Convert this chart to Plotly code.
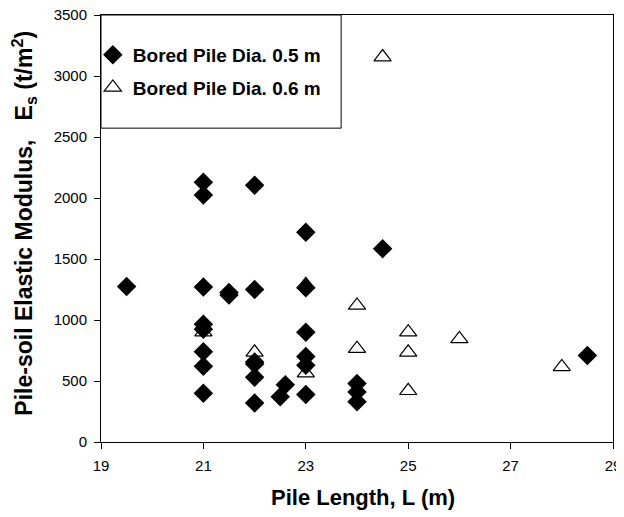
import plotly.graph_objects as go

# Bored pile dia. 0.5 m (filled diamonds)
d05_length = [19.5, 21, 21, 21, 21, 21, 21, 21, 21, 21.5, 21.5, 22, 22, 22, 22, 22, 22,
              22.5, 22.6, 23, 23, 23, 23, 23, 23, 24, 24, 24, 24.5, 28.5]
d05_es = [1275, 2130, 2025, 1270, 965, 925, 740, 620, 400, 1205, 1225, 2105, 1250, 655, 640, 530, 320,
          370, 470, 1720, 1265, 900, 700, 630, 390, 480, 410, 330, 1585, 710]

# Bored pile dia. 0.6 m (open triangles)
d06_length = [21, 22, 23, 23, 24, 24, 24.5, 25, 25, 25, 26, 28]
d06_es = [900, 735, 1290, 565, 1120, 765, 3155, 900, 735, 420, 845, 615]

x_ticks = [19, 21, 23, 25, 27, 29]
y_ticks = [0, 500, 1000, 1500, 2000, 2500, 3000, 3500]

FONT = "Liberation Sans, Arial, sans-serif"

fig = go.Figure()
fig.add_trace(go.Scatter(
    x=d05_length, y=d05_es, mode="markers", name="Bored Pile Dia. 0.5 m",
    legendgroup="a",
    marker=dict(symbol="diamond", size=15, color="black", line=dict(width=0)),
))
fig.add_trace(go.Scatter(
    x=d06_length, y=d06_es, mode="markers", name="Bored Pile Dia. 0.6 m",
    legendgroup="b",
    marker=dict(symbol="triangle-up-open", size=15, color="black", line=dict(width=1.2)),
))

# legend frame
fig.add_shape(type="rect", xref="paper", yref="paper",
              x0=0, x1=0.469, y0=0.735, y1=1,
              line=dict(color="black", width=1), fillcolor="white", layer="below")

# axis titles
fig.add_annotation(text="<b>Pile Length, L (m)</b>", xref="paper", yref="paper",
                   x=0.512, y=-0.129, xanchor="center", yanchor="middle", showarrow=False,
                   font=dict(size=22, family=FONT, color="black"))
fig.add_annotation(text="<b>Pile-soil Elastic Modulus,\u00a0\u00a0\u00a0E<sub>s</sub> (t/m<sup>2</sup>)</b>",
                   xref="paper", yref="paper", x=-0.151, y=0.513, textangle=-90,
                   xanchor="center", yanchor="middle", showarrow=False,
                   font=dict(size=23, family=FONT, color="black"))

# the page body adds an 8px offset, so the figure is sized 8px smaller
fig.update_layout(
    width=616, height=509,
    margin=dict(l=93, r=11, t=7, b=75),
    paper_bgcolor="white", plot_bgcolor="white",
    font=dict(family=FONT, color="black"),
    showlegend=True,
    legend=dict(x=-0.016, y=0.951, xanchor="left", yanchor="top",
                bgcolor="rgba(0,0,0,0)", borderwidth=0,
                font=dict(size=19, family=FONT, color="black", weight="bold"),
                traceorder="grouped", tracegroupgap=5),
    xaxis=dict(
        range=[19, 29], tickvals=x_ticks, ticktext=[str(v) for v in x_ticks],
        showgrid=False, zeroline=False, showline=True, linecolor="black", linewidth=1,
        mirror=True, ticks="outside", ticklen=6, tickcolor="black", automargin=False,
        ticklabelstandoff=4, ticklabeloverflow="allow",
        tickfont=dict(size=15, family=FONT, color="black"),
    ),
    yaxis=dict(
        range=[0, 3500], tickvals=y_ticks, ticktext=[str(v) for v in y_ticks],
        showgrid=False, zeroline=False, showline=True, linecolor="black", linewidth=1,
        mirror=True, ticks="outside", ticklen=6, tickcolor="black", automargin=False,
        ticklabelstandoff=4, ticklabeloverflow="allow",
        tickfont=dict(size=15, family=FONT, color="black"),
    ),
)

fig.write_html("out.html")
